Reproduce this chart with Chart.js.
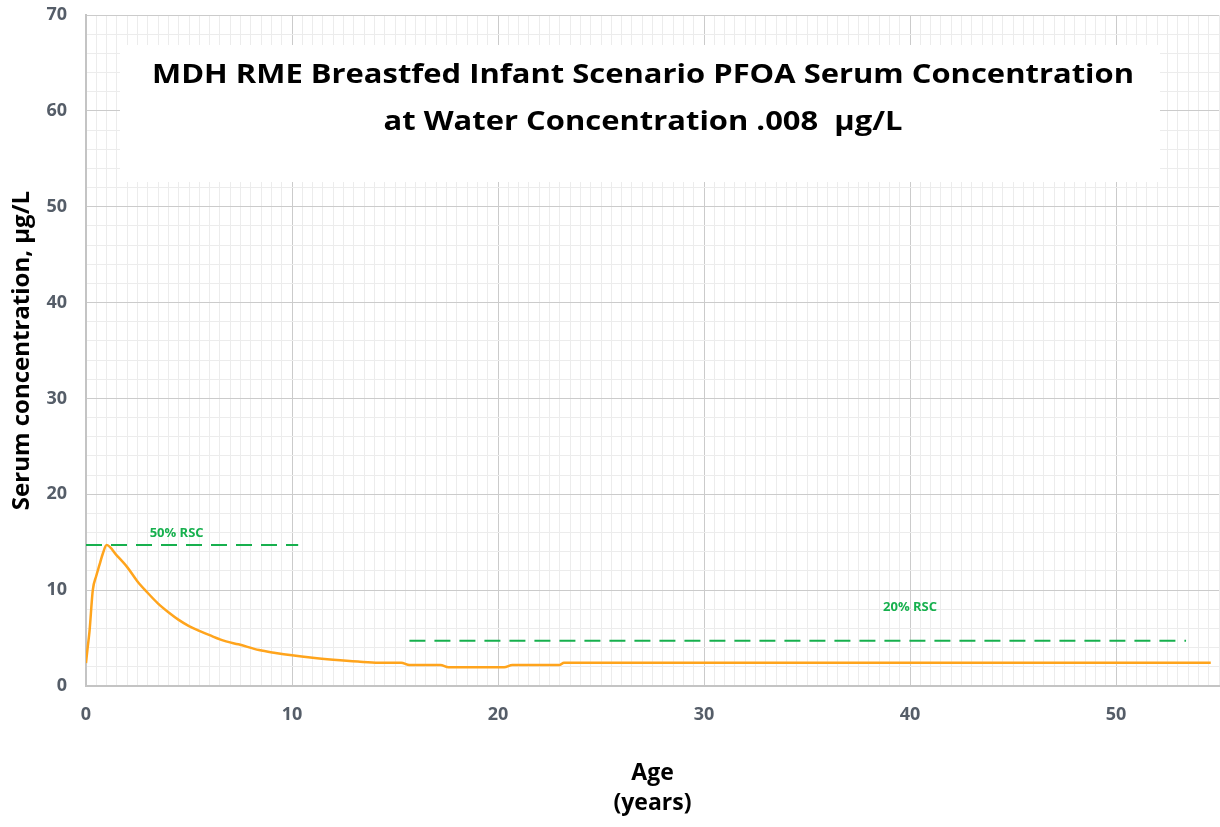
<!DOCTYPE html>
<html>
<head>
<meta charset="utf-8">
<title>PFOA serum concentration</title>
<script src="https://cdn.jsdelivr.net/npm/chart.js@4/dist/chart.umd.min.js"></script>
<style>
	html, body { margin: 0; padding: 0; background: #fff; }
	#wrap { width: 1220px; height: 827px; }
</style>
</head>
<body>
<div id="wrap"><canvas id="c" width="1220" height="827"></canvas></div>
<script>
// serum curve
var ageYears  = [0, 0.08, 0.17, 0.33, 0.5, 0.65, 0.83, 1.0, 1.5, 2.0, 2.5, 3.0, 3.5, 4.0, 4.5, 5.0, 5.5, 6.0, 6.8, 7.4, 8.4, 9.2, 10.0, 11.0, 12.0, 13.2, 14.2, 15.3, 15.7, 17.2, 17.6, 20.3, 20.7, 23.0, 23.2, 54.6];
var serumConc = [2.4, 4.0, 5.7, 10.0, 11.5, 12.6, 13.9, 14.7, 13.6, 12.4, 10.9, 9.7, 8.6, 7.7, 6.9, 6.25, 5.75, 5.3, 4.65, 4.35, 3.75, 3.45, 3.2, 2.95, 2.75, 2.55, 2.43, 2.43, 2.2, 2.2, 1.95, 1.95, 2.2, 2.2, 2.43, 2.43];

// reference levels (dashed)
var rsc50X = [0, 10.3];
var rsc50Y = [14.7, 14.7];
var rsc20X = [15.7, 53.4];
var rsc20Y = [4.72, 4.72];

var rscLabels = ["50% RSC", "20% RSC"];
var rscLabelX = [4.4, 40.0];
var rscLabelY = [15.9, 8.2];

var xTickLabels = [0, 10, 20, 30, 40, 50];
var yTickLabels = [0, 10, 20, 30, 40, 50, 60, 70];

var titleLines = [
	"MDH RME Breastfed Infant Scenario PFOA Serum Concentration",
	"at Water Concentration .008  \u00b5g/L"
];

var GREEN = "#17b04e";
var ORANGE = "#ffa41c";
var TICK_COLOR = "#555d68";

function toPoints(xs, ys) {
	var pts = [];
	for(var i = 0; i < xs.length; i++) {
		pts.push({ x: xs[i], y: ys[i] });
	}
	return pts;
}

function isMajor(v, list) {
	for(var i = 0; i < list.length; i++) {
		if(Math.abs(v - list[i]) < 1e-6) return true;
	}
	return false;
}

// white title box sitting on the grid, plus the RSC texts
var overlayPlugin = {
	id: "overlay",
	beforeDatasetsDraw: function(chart) {
		var ctx = chart.ctx;
		ctx.save();
		ctx.fillStyle = "#ffffff";
		ctx.fillRect(120, 45, 1040, 137);

		ctx.fillStyle = "#000000";
		ctx.textAlign = "center";
		ctx.textBaseline = "middle";
		ctx.font = "bold 27px 'Open Sans'";
		var w = ctx.measureText(titleLines[0]).width;
		var sx = 982 / w;
		var cy = [75, 122];
		for(var i = 0; i < titleLines.length; i++) {
			ctx.save();
			ctx.translate(643, cy[i]);
			ctx.scale(sx, 1);
			ctx.fillText(titleLines[i], 0, 0);
			ctx.restore();
		}
		ctx.restore();
	},
	afterDatasetsDraw: function(chart) {
		var ctx = chart.ctx;
		var xs = chart.scales.x;
		var ys = chart.scales.y;
		ctx.save();
		ctx.fillStyle = GREEN;
		ctx.textAlign = "center";
		ctx.textBaseline = "middle";
		ctx.font = "bold 13px 'Open Sans'";
		for(var i = 0; i < rscLabels.length; i++) {
			ctx.fillText(rscLabels[i], xs.getPixelForValue(rscLabelX[i]), ys.getPixelForValue(rscLabelY[i]));
		}
		ctx.restore();
	}
};

var ctx = document.getElementById("c").getContext("2d");

var chart = new Chart(ctx, {
	type: "line",
	data: {
		datasets: [
			{
				label: "Serum",
				data: toPoints(ageYears, serumConc),
				borderColor: ORANGE,
				borderWidth: 2.5,
				pointRadius: 0,
				cubicInterpolationMode: "monotone"
			},
			{
				label: "50% RSC",
				data: toPoints(rsc50X, rsc50Y),
				borderColor: GREEN,
				borderWidth: 2,
				borderDash: [16, 9],
				pointRadius: 0
			},
			{
				label: "20% RSC",
				data: toPoints(rsc20X, rsc20Y),
				borderColor: GREEN,
				borderWidth: 2,
				borderDash: [16, 9],
				pointRadius: 0
			}
		]
	},
	options: {
		responsive: false,
		animation: false,
		layout: { padding: { top: 15, right: 1, left: 0, bottom: 0 } },
		plugins: {
			legend: { display: false },
			tooltip: { enabled: false }
		},
		scales: {
			x: {
				type: "linear",
				min: 0,
				max: 55,
				afterFit: function(scale) {
					scale.height = 141;
					scale.paddingLeft = 0;
					scale.paddingRight = 0;
				},
				border: { color: "#c4c4c4", width: 2 },
				grid: {
					drawTicks: false,
					lineWidth: 1,
					color: function(c) {
						return isMajor(c.tick.value, xTickLabels) ? "#cbcbcb" : "#ececec";
					}
				},
				ticks: {
					stepSize: 0.5,
					autoSkip: false,
					maxTicksLimit: 1000,
					maxRotation: 0,
					minRotation: 0,
					padding: 18,
					color: TICK_COLOR,
					font: { family: "'Open Sans'", size: 18, weight: "bold" },
					callback: function(v) {
						return isMajor(v, xTickLabels) ? String(Math.round(v)) : "";
					}
				},
				title: {
					display: true,
					text: ["Age", "(years)"],
					color: "#000000",
					font: { family: "'Open Sans'", size: 23, weight: "bold", lineHeight: 1.32 },
					padding: { top: 0, bottom: 8 }
				}
			},
			y: {
				type: "linear",
				min: 0,
				max: 70,
				afterFit: function(scale) {
					scale.width = 86;
					scale.paddingTop = 0;
					scale.paddingBottom = 0;
				},
				border: { color: "#c4c4c4", width: 2 },
				grid: {
					drawTicks: false,
					lineWidth: 1,
					color: function(c) {
						return isMajor(c.tick.value, yTickLabels) ? "#cbcbcb" : "#ececec";
					}
				},
				ticks: {
					stepSize: 2,
					autoSkip: false,
					maxTicksLimit: 1000,
					padding: 19,
					color: TICK_COLOR,
					font: { family: "'Open Sans'", size: 18, weight: "bold" },
					callback: function(v) {
						return isMajor(v, yTickLabels) ? String(Math.round(v)) : "";
					}
				},
				title: {
					display: true,
					text: "Serum concentration, \u00b5g/L",
					color: "#000000",
					font: { family: "'Open Sans'", size: 24, weight: "bold", lineHeight: 1.2 },
					padding: { top: 8, bottom: 0 }
				}
			}
		}
	},
	plugins: [overlayPlugin]
});
</script>
</body>
</html>
